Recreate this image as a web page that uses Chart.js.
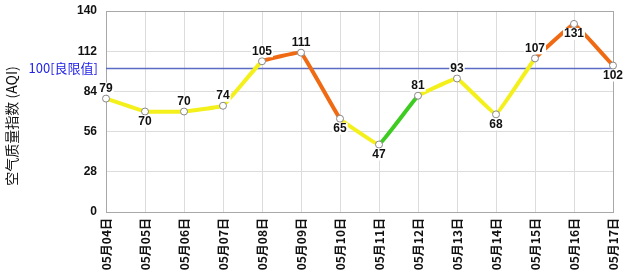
<!DOCTYPE html>
<html>
<head>
<meta charset="utf-8">
<script src="https://cdn.jsdelivr.net/npm/chart.js@4/dist/chart.umd.min.js"></script>
<style>
  body { margin: 0; background: #fff; }
</style>
</head>
<body>
<canvas id="aqiChart" width="623" height="279"></canvas>
<script>
// data
const days = ["05月04日", "05月05日", "05月06日", "05月07日", "05月08日", "05月09日", "05月10日",
  "05月11日", "05月12日", "05月13日", "05月14日", "05月15日", "05月16日", "05月17日"];
const aqi = [79, 70, 70, 74, 105, 111, 65, 47, 81, 93, 68, 107, 131, 102];
const yTicks = [0, 28, 56, 84, 112, 140];
const limitValue = 100;
const limitLabel = "100[良限值]";
const yTitle = "空气质量指数 (AQI)";

const latin = "'Liberation Sans', Arial, sans-serif";
const cjk = "'Noto Sans CJK SC', 'Liberation Sans', sans-serif";

function levelColor(v) {
  if (v <= 50) return "#3fcc22";
  if (v <= 100) return "#f4f01c";
  return "#ef6a12";
}

// limit line, frame and axis title, under the data line
const limitPlugin = {
  id: "limitPlugin",
  beforeDatasetsDraw(chart) {
    const ctx = chart.ctx;
    const area = chart.chartArea;
    const y = chart.scales.y.getPixelForValue(limitValue);
    ctx.save();
    ctx.strokeStyle = "#a8a8a8";
    ctx.lineWidth = 1;
    ctx.strokeRect(area.left + 0.5, area.top + 0.5, area.right - area.left, area.bottom - area.top);
    ctx.strokeStyle = "#5a6cc4";
    ctx.lineWidth = 1.5;
    ctx.beginPath();
    ctx.moveTo(area.left, y);
    ctx.lineTo(area.right, y);
    ctx.stroke();
    ctx.fillStyle = "#2323e6";
    ctx.font = "13px " + cjk;
    ctx.textAlign = "right";
    ctx.textBaseline = "middle";
    ctx.fillText(limitLabel, area.left - 8, y);

    // y axis title
    ctx.translate(12, 126);
    ctx.rotate(-Math.PI / 2);
    ctx.fillStyle = "#111";
    ctx.font = "14px " + cjk;
    ctx.textAlign = "center";
    ctx.fillText(yTitle, 0, 0);
    ctx.restore();
  }
};

// value labels with white background
const valuePlugin = {
  id: "valuePlugin",
  afterDatasetsDraw(chart) {
    const ctx = chart.ctx;
    const meta = chart.getDatasetMeta(0);
    ctx.save();
    ctx.font = "bold 12px " + latin;
    ctx.textAlign = "center";
    ctx.textBaseline = "middle";
    meta.data.forEach(function (pt, i) {
      const v = aqi[i];
      let below = i > 0 && v < aqi[i - 1];
      if (pt.y < chart.chartArea.top + 20) below = true;
      const ty = below ? pt.y + 10 : pt.y - 10;
      const txt = String(v);
      const w = ctx.measureText(txt).width;
      ctx.fillStyle = "#fff";
      ctx.fillRect(pt.x - w / 2 - 1, ty - 6, w + 2, 12);
      ctx.fillStyle = "#111";
      ctx.fillText(txt, pt.x, ty);
    });
    ctx.restore();
  }
};

new Chart(document.getElementById("aqiChart").getContext("2d"), {
  type: "line",
  data: {
    labels: days,
    datasets: [
      {
        data: aqi,
        borderWidth: 4,
        tension: 0.06,
        clip: false,
        segment: {
          borderColor: function (c) { return levelColor(c.p0.parsed.y); }
        },
        borderColor: "#f4f01c",
        pointRadius: 3.5,
        pointBackgroundColor: "#fff",
        pointBorderColor: "#888",
        pointBorderWidth: 1
      }
    ]
  },
  options: {
    responsive: false,
    animation: false,
    layout: { padding: { top: 11, right: 10, left: 0, bottom: 0 } },
    plugins: {
      legend: { display: false },
      tooltip: { enabled: false }
    },
    scales: {
      x: {
        offset: false,
        afterFit: function (s) {
          s.height = 67;
          s.paddingLeft = 0;
          s.paddingRight = 0;
        },
        grid: { color: "#dcdcdc", drawTicks: false },
        border: { color: "#8c8c8c" },
        ticks: {
          autoSkip: false,
          maxRotation: 90,
          minRotation: 90,
          padding: 6,
          color: "#111",
          font: { family: cjk, size: 12, weight: "bold" }
        }
      },
      y: {
        min: 0,
        max: 140,
        afterFit: function (s) {
          s.width = 106;
          s.paddingTop = 0;
          s.paddingBottom = 0;
        },
        afterBuildTicks: function (s) { s.ticks = yTicks.map(function (v) { return { value: v }; }); },
        grid: { color: "#dcdcdc", drawTicks: false },
        border: { color: "#a0a0a0" },
        ticks: {
          padding: 9,
          color: "#111",
          font: { family: latin, size: 12, weight: "bold" }
        }
      }
    }
  },
  plugins: [limitPlugin, valuePlugin]
});
</script>
</body>
</html>
